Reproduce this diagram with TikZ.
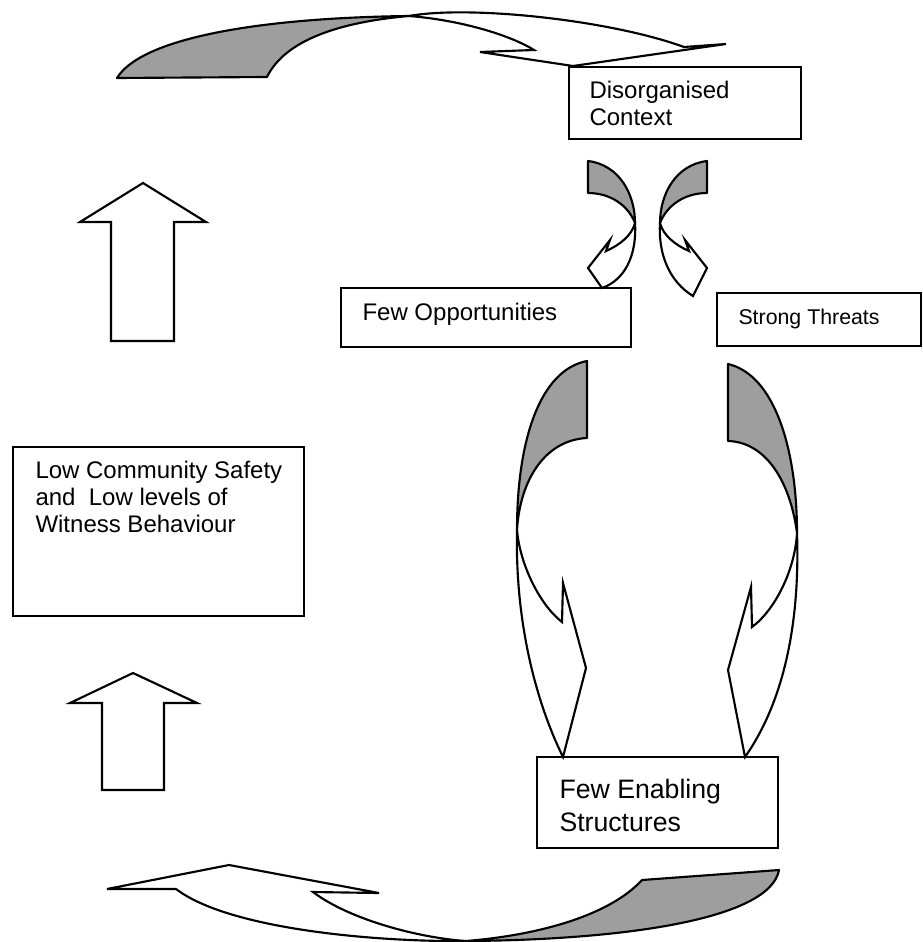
\documentclass[tikz,border=0pt]{standalone}
\usepackage{fontspec}
\setmainfont{Liberation Sans}
\usepackage{tikz}
\tikzset{every picture/.style={line width=0.75pt}}
\tikzset{
  box/.style={draw, line width=1.6pt},
  under/.style={draw, fill=black!38, line width=1.6pt, line join=round},
  over/.style={draw, fill=white, line width=1.6pt, line join=miter},
  lbl/.style={anchor=west, inner sep=0pt, align=left, font=\fontsize{18}{20.25}\selectfont}
}

\begin{document}
\begin{tikzpicture}[x=0.75pt,y=0.75pt,yscale=-1,xscale=1]
\useasboundingbox (0,0) rectangle (922,942);

%Shape: Rectangle [Disorganised Context]
\draw [box] (569,67) rectangle (801,139);
%Shape: Rectangle [Few Opportunities]
\draw [box] (341,288) rectangle (631,347);
%Shape: Rectangle [Strong Threats]
\draw [box] (717,293) rectangle (921,346);
%Shape: Rectangle [Few Enabling Structures]
\draw [box] (537,757) rectangle (778,848);
%Shape: Rectangle [Low Community Safety]
\draw [box] (13,447) rectangle (304,616);

%Curved Arrow: top, back side
\draw [under] (117,78) .. controls (140,40) and (250,18) .. (409,16) .. controls (340,22) and (285,40) .. (267,77) -- cycle ;
%Curved Arrow: top, front side
\draw [over] (409,16) .. controls (470,5) and (610,20) .. (684,47) -- (726,44) -- (573,66) -- (480,52) -- (534,50) .. controls (510,35) and (460,20) .. (409,16) -- cycle ;

%Curved Arrow: small left, back side
\draw [under] (588,161) .. controls (620,165) and (635,195) .. (635,223) .. controls (628,205) and (610,193) .. (588,193) -- cycle ;
%Curved Arrow: small left, front side
\draw [over] (635,223) .. controls (637,255) and (625,280) .. (602,288) -- (588,268) -- (610,240) -- (606,251) .. controls (620,245) and (632,235) .. (635,223) -- cycle ;

%Curved Arrow: small right, back side
\draw [under] (707,161) .. controls (675,165) and (660,195) .. (660,223) .. controls (667,205) and (685,193) .. (707,193) -- cycle ;
%Curved Arrow: small right, front side
\draw [over] (660,223) .. controls (658,255) and (670,282) .. (693,296) -- (707,268) -- (685,240) -- (689,251) .. controls (675,245) and (663,235) .. (660,223) -- cycle ;

%Curved Arrow: big left, back side
\draw [under] (587,361) .. controls (540,370) and (517,440) .. (517,530) .. controls (520,480) and (545,440) .. (587,438) -- cycle ;
%Curved Arrow: big left, front side
\draw [over] (517,530) .. controls (515,620) and (535,700) .. (563,757) -- (586,668) -- (563,583) -- (562,622) .. controls (540,605) and (520,565) .. (517,530) -- cycle ;

%Curved Arrow: big right, back side
\draw [under] (728,364) .. controls (775,375) and (797,450) .. (797,533) .. controls (790,480) and (765,442) .. (728,441) -- cycle ;
%Curved Arrow: big right, front side
\draw [over] (797,533) .. controls (800,620) and (785,700) .. (745,757) -- (728,670) -- (751,587) -- (752,627) .. controls (775,610) and (795,570) .. (797,533) -- cycle ;

%Curved Arrow: bottom, back side
\draw [under] (466,941) .. controls (620,940) and (770,920) .. (779,870) -- (642,880) .. controls (610,915) and (540,935) .. (466,941) -- cycle ;
%Curved Arrow: bottom, front side
\draw [over] (466,941) .. controls (380,942) and (230,930) .. (176,889) -- (107,889) -- (229,865) -- (379,893) -- (313,892) .. controls (350,920) and (420,938) .. (466,941) -- cycle ;

%Shape: Up Arrow [upper]
\draw [over] (111,341) -- (111,222) -- (80,222) -- (143,183) -- (206,222) -- (174,222) -- (174,341) -- cycle ;
%Shape: Up Arrow [lower]
\draw [over] (102,790) -- (102,703) -- (70,703) -- (133,673) -- (197,703) -- (164,703) -- (164,790) -- cycle ;

% Text Node
\node (disorg) [lbl] at (589,103) {Disorganised\\Context};
% Text Node
\node (fewopp) [lbl] at (362,314) {Few Opportunities};
% Text Node
\node (threats) [lbl, font=\fontsize{16}{19}\selectfont] at (738,319) {Strong Threats};
% Text Node
\node (enabling) [lbl, font=\fontsize{20}{24.75}\selectfont] at (559,805) {Few Enabling\\Structures};
% Text Node
\node (safety) [lbl, anchor=north west] at (35,461) {Low Community Safety\\and~ Low levels of\\Witness Behaviour};

\end{tikzpicture}
\end{document}
